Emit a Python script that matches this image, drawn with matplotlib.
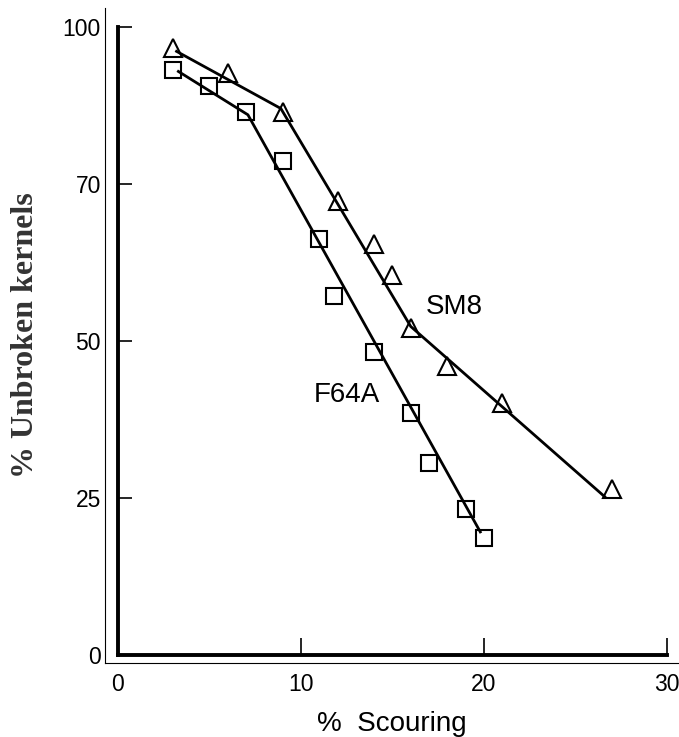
import matplotlib
matplotlib.use("Agg")
import matplotlib.pyplot as plt

# measured points
sm8_x = [3, 6, 9, 12, 14, 15, 16, 18, 21, 27]
sm8_y = [96.7, 92.7, 86.5, 72.2, 65.4, 60.5, 52.0, 46.0, 40.1, 26.5]
f64a_x = [3, 5, 7, 9, 11, 11.8, 14, 16, 17, 19, 20]
f64a_y = [93.2, 90.6, 86.4, 78.7, 66.2, 57.2, 48.3, 38.5, 30.6, 23.3, 18.7]

# hand-drawn fitted lines
sm8_line_x = [3.2, 8.9, 16.0, 26.6]
sm8_line_y = [96.1, 87.0, 52.3, 25.2]
f64a_line_x = [3.3, 7.1, 19.8]
f64a_line_y = [92.9, 86.0, 19.6]

yticks = [0, 25, 50, 75, 100]
ytick_labels = ["0", "25", "50", "70", "100"]
xticks = [0, 10, 20, 30]

plt.rcParams["font.family"] = ["Liberation Sans", "DejaVu Sans"]

fig = plt.figure(figsize=(6.79, 7.37), dpi=100)
rect = [105 / 679, (737 - 663) / 737, (679 - 105) / 679, (663 - 8) / 737]
xlim = (-0.71, 30.66)
ylim = (-1.27, 103.0)

# outer thin frame with the labels
ax = fig.add_axes(rect)
ax.set_xlim(*xlim)
ax.set_ylim(*ylim)
for s in ["top", "right"]:
    ax.spines[s].set_visible(False)
for s in ["left", "bottom"]:
    ax.spines[s].set_linewidth(0.8)
ax.set_xticks(xticks)
ax.set_yticks(yticks)
ax.set_yticklabels(ytick_labels)
ax.tick_params(length=0, labelsize=16.5, pad=3)
ax.tick_params(axis="x", pad=7)
ax.set_xlabel("%  Scouring", fontsize=20, labelpad=11)
ax.set_ylabel("% Unbroken kernels", fontsize=23, fontweight="bold",
              family="Liberation Serif", color="#333333", labelpad=16)

# inner thick axes from the scanned figure
ax2 = fig.add_axes(rect)
ax2.set_xlim(*xlim)
ax2.set_ylim(*ylim)
ax2.patch.set_visible(False)
for s in ["top", "right"]:
    ax2.spines[s].set_visible(False)
ax2.spines["left"].set_position(("data", 0))
ax2.spines["bottom"].set_position(("data", 0))
ax2.spines["left"].set_bounds(0, 100)
ax2.spines["bottom"].set_bounds(0, 30)
ax2.spines["left"].set_linewidth(2.8)
ax2.spines["bottom"].set_linewidth(2.8)
ax2.set_xticks([10, 20, 30])
ax2.set_yticks([25, 50, 75, 100])
ax2.tick_params(direction="in", labelleft=False, labelbottom=False, width=1.2)
ax2.tick_params(axis="y", length=10)
ax2.tick_params(axis="x", length=12)

ax2.plot(sm8_line_x, sm8_line_y, color="black", lw=2)
ax2.plot(f64a_line_x, f64a_line_y, color="black", lw=2)
ax2.plot(sm8_x, sm8_y, linestyle="none", marker="^", ms=13,
         mfc="none", mec="black", mew=1.5)
ax2.plot(f64a_x, f64a_y, linestyle="none", marker="s", ms=11,
         mfc="none", mec="black", mew=1.5)

ax2.text(18.4, 55.4, "SM8", fontsize=20, ha="center", va="center")
ax2.text(12.5, 41.4, "F64A", fontsize=20, ha="center", va="center")

fig.savefig("out.png", dpi=100)
